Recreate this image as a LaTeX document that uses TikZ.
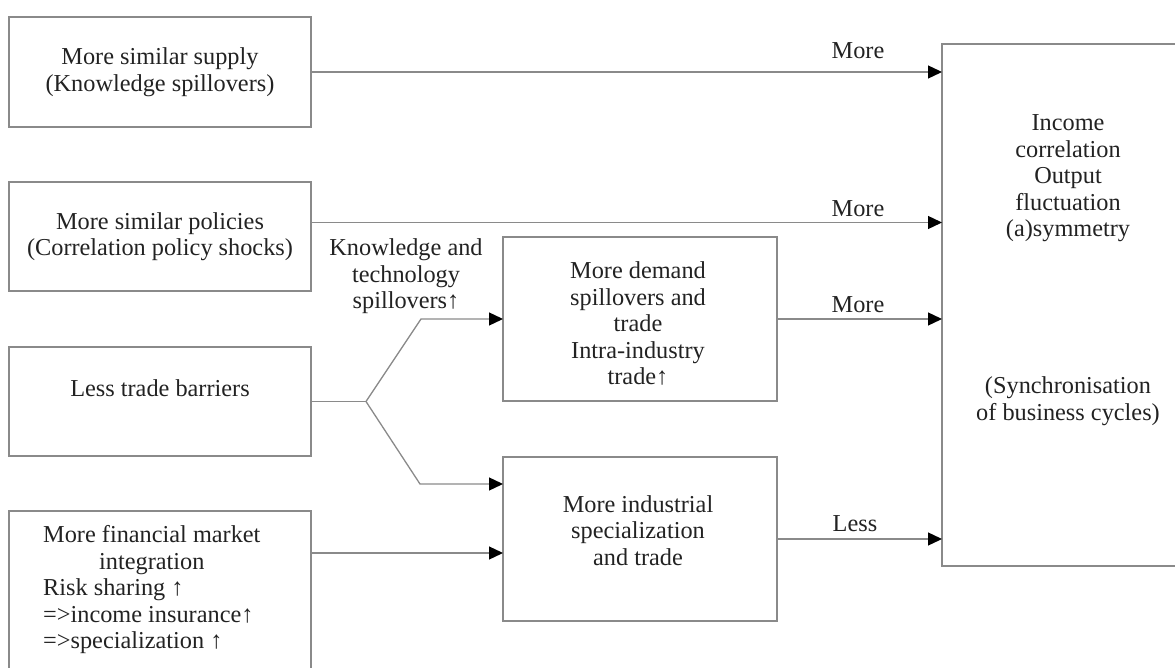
\documentclass[tikz,border=0pt]{standalone}
\usepackage{fontspec}
\setmainfont{Liberation Serif}
\usetikzlibrary{arrows.meta}
\definecolor{linegray}{HTML}{8A8A8A}
\definecolor{txt}{HTML}{222222}
\begin{document}
\begin{tikzpicture}[x=1pt,y=-1pt,
  every node/.style={font=\fontsize{24.3}{26.5}\selectfont, text=txt},
  box/.style={draw=linegray, line width=1.3pt, inner sep=0pt, outer sep=0pt, align=center},
  arr/.style={draw=linegray, line width=1.3pt, -{Triangle[length=14pt,width=13pt,fill=black,color=black]}},
  ln/.style={draw=linegray, line width=1.3pt},
  lbl/.style={inner sep=0pt, align=center}]
\useasboundingbox (0,0) rectangle (1175,668);
% left column
\node[box, minimum width=302pt, minimum height=110pt] (b1) at (160,72) {More similar supply\\(Knowledge spillovers)};
\node[box, minimum width=302pt, minimum height=109pt] (b2) at (160,236.5) {More similar policies\\(Correlation policy shocks)};
\node[box, minimum width=302pt, minimum height=109pt] (b3) at (160,401.5) {};
\node[lbl] (b3t) at (160,388) {Less trade barriers};
\node[box, minimum width=302pt, minimum height=170pt, anchor=north] (b4) at (160,511) {};
\node[lbl, anchor=west] (b4t) at (43,590.5) {\begin{tabular}{@{}l@{}}More financial market\\ \multicolumn{1}{@{}c@{}}{integration}\\ Risk sharing ↑\\ =>income insurance↑\\ =>specialization ↑\end{tabular}};
% middle column
\node[box, minimum width=274pt, minimum height=164pt] (m1) at (640,319) {};
\node[lbl] (m1t) at (638,323.5) {More demand\\spillovers and\\trade\\Intra-industry\\trade↑};
\node[box, minimum width=274pt, minimum height=164pt] (m2) at (640,539) {};
\node[lbl] (m2t) at (638,530.5) {More industrial\\specialization\\and trade};
% right box
\node[box, minimum width=252pt, minimum height=522pt] (R) at (1068,305) {};
\node[lbl] (Rt1) at (1068,178.5) {Income\\correlation\\Output\\fluctuation\\(a)symmetry};
\node[lbl] (Rt2) at (1068,401) {(Synchronisation\\of business cycles)};
% branch
\coordinate (J) at (366,401.5);
\coordinate (Ju) at (421,319);
\coordinate (Jd) at (420,484);
\draw[ln] (b3.east) -- (J);
\draw[arr] (J) -- (Ju) -- (Ju -| m1.west);
\draw[arr] (J) -- (Jd) -- (Jd -| m2.west);
\node[lbl] (kt) at (406,276.5) {Knowledge and\\technology\\spillovers↑};
% connectors to right box
\draw[arr] (b1.east) -- (b1.east -| R.west);
\coordinate (a2) at ([yshift=14pt]b2.east);
\draw[arr] (a2) -- (a2 -| R.west);
\coordinate (a4) at ([yshift=-42pt]b4.north east);
\draw[arr] (a4) -- (a4 -| m2.west);
\draw[arr] (m1.east) -- (m1.east -| R.west);
\draw[arr] (m2.east) -- (m2.east -| R.west);
% labels
\node[lbl] (l1) at (858,51) {More};
\node[lbl] (l2) at (858,209) {More};
\node[lbl] (l3) at (858,305) {More};
\node[lbl] (l4) at (855,524) {Less};
\end{tikzpicture}
\end{document}
